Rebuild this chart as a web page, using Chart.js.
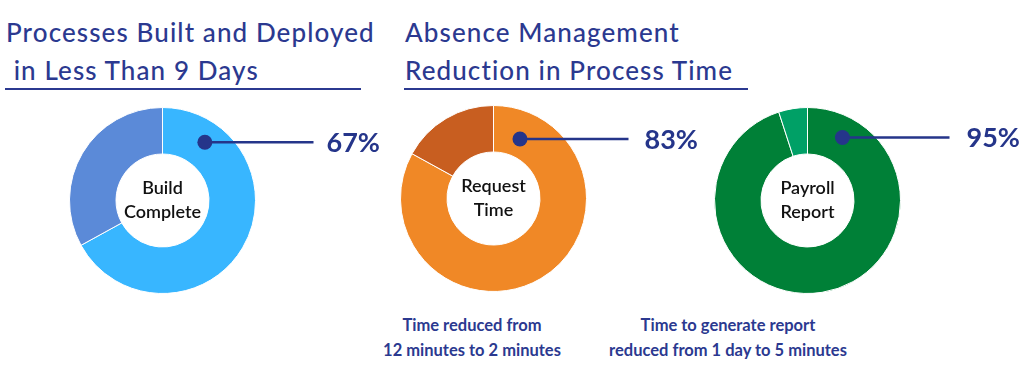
<!DOCTYPE html>
<html>
<head>
<meta charset="utf-8">
<script src="https://cdn.jsdelivr.net/npm/chart.js@4/dist/chart.umd.min.js"></script>
<style>
  body { margin:0; width:1024px; height:370px; background:#fff; position:relative; overflow:hidden; font-family:'Lato', sans-serif; }
  .title { position:absolute; color:#2b3990; font-size:26px; font-weight:500; line-height:38px; letter-spacing:1.1px; white-space:pre; }
  .rule { position:absolute; height:2px; background:#2b3990; }
  .note { position:absolute; color:#2b3990; font-size:16.5px; font-weight:700; line-height:25px; text-align:center; white-space:nowrap; }
  canvas { position:absolute; }
</style>
</head>
<body>
<div class="title" style="left:6px;top:13px;">Processes Built and Deployed
 in Less Than 9 Days</div>
<div class="rule" style="left:5px;top:88px;width:356px;"></div>
<div class="title" style="left:405px;top:13px;">Absence Management
Reduction in Process Time</div>
<div class="rule" style="left:404px;top:88px;width:344px;"></div>

<div class="note" style="left:372px;top:313px;width:200px;">Time reduced from<br>12 minutes to 2 minutes</div>
<div class="note" style="left:588px;top:313px;width:280px;">Time to generate report<br>reduced from 1 day to 5 minutes</div>

<canvas id="c1" width="320" height="187" style="left:69px;top:107px;"></canvas>
<canvas id="c2" width="310" height="187" style="left:400px;top:105px;"></canvas>
<canvas id="c3" width="310" height="187" style="left:714px;top:107px;"></canvas>

<script>
const buildLabels = ['Build Complete', 'Remaining'];
const buildValues = [67, 33];
const requestLabels = ['Request Time', 'Saved'];
const requestValues = [83, 17];
const payrollLabels = ['Payroll Report', 'Saved'];
const payrollValues = [95, 5];

const navy = '#25358a';

// dot + leader line + percentage + centre caption
const callout = {
  id: 'callout',
  afterDraw(chart, args, opts) {
    const c = chart.ctx;
    const arc = chart.getDatasetMeta(0).data[0];
    const cx = arc.x, cy = arc.y;
    const r = arc.innerRadius + (arc.outerRadius - arc.innerRadius) * opts.ring;
    const a = (opts.angle - 90) * Math.PI / 180;
    const dx = cx + r * Math.cos(a), dy = cy + r * Math.sin(a);
    c.save();
    c.strokeStyle = navy;
    c.lineWidth = 2.5;
    c.beginPath();
    c.moveTo(dx, dy);
    c.lineTo(cx + opts.lineEnd, dy);
    c.stroke();
    c.fillStyle = navy;
    c.beginPath();
    c.arc(dx, dy, 7.5, 0, Math.PI * 2);
    c.fill();
    c.font = '700 27px Lato';
    c.textBaseline = 'middle';
    c.fillText(chart.data.datasets[0].data[0] + '%', cx + opts.textAt, dy + 1);
    c.fillStyle = '#111';
    c.font = '600 18px Lato';
    c.textAlign = 'center';
    const words = chart.data.labels[0].split(' ');
    c.fillText(words[0], cx, cy - 12);
    c.fillText(words[1], cx, cy + 12);
    c.restore();
  }
};

function donut(id, labels, values, colors, extra) {
  new Chart(document.getElementById(id), {
    type: 'doughnut',
    data: {
      labels: labels,
      datasets: [{
        data: values,
        backgroundColor: colors,
        borderColor: '#fff',
        borderWidth: 1
      }]
    },
    options: {
      responsive: false,
      animation: false,
      cutout: '50%',
      layout: { padding: { right: extra.padRight } },
      plugins: {
        legend: { display: false },
        tooltip: { enabled: false },
        callout: extra
      }
    },
    plugins: [callout]
  });
}

donut('c1', buildLabels, buildValues, ['#38b6ff', '#5b8ad8'],
  { padRight: 133, angle: 36, ring: 0.55, lineEnd: 151, textAt: 164 });
donut('c2', requestLabels, requestValues, ['#f08826', '#c85e20'],
  { padRight: 123, angle: 24, ring: 0.4, lineEnd: 135, textAt: 151 });
donut('c3', payrollLabels, payrollValues, ['#008037', '#00a066'],
  { padRight: 123, angle: 29, ring: 0.55, lineEnd: 142, textAt: 159 });
</script>
</body>
</html>
